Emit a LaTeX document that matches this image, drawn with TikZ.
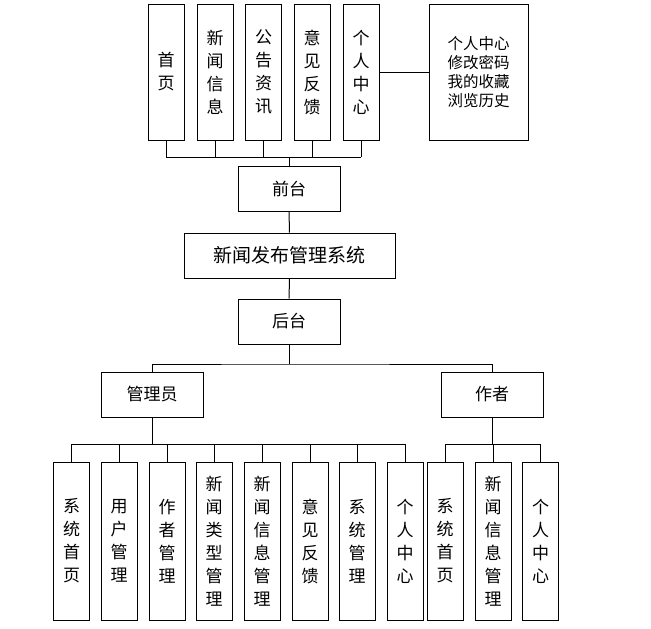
\documentclass[tikz,border=0pt]{standalone}
\usepackage{fontspec}
\newfontfamily\cjk{Noto Sans CJK SC}
\usetikzlibrary{calc}
\tikzset{box/.style={draw,line width=1pt,inner sep=0pt,align=center,font=\cjk\fontsize{17}{23}\selectfont},
  tall/.style={box,minimum width=36pt,minimum height=136pt},
  low/.style={box,minimum width=36pt,minimum height=158pt},
  wide/.style={box,minimum width=102pt,minimum height=45pt},
  link/.style={line width=1pt}}
\begin{document}
\begin{tikzpicture}[x=1pt,y=-1pt]
\useasboundingbox(0,0)rectangle(651,629);
% front end
\node[tall](home)at(166,72){首\\页};\node[tall](news)at(215,72){新\\闻\\信\\息};
\node[tall](notice)at(263.5,72){公\\告\\资\\讯};\node[tall](advice)at(312,72){意\\见\\反\\馈};
\node[tall](mine)at(361,72){个\\人\\中\\心};
\node[box,minimum width=99pt,minimum height=136pt,font=\cjk\fontsize{15.5}{19}\selectfont](minelist)at(478.5,72){个人中心\\修改密码\\我的收藏\\浏览历史};
\node[wide](front)at(289,188.5){前台};
\node[box,minimum width=211pt,minimum height=45pt,font=\cjk\fontsize{19}{23}\selectfont](sys)at(289.5,255.5){新闻发布管理系统};
\node[wide](back)at(289,321.5){后台};
\coordinate(topbus)at(289,157);
\foreach \n in {home,news,notice,advice,mine}{\draw[link](\n.south)--(\n.south|-topbus);}
\draw[link](home.south|-topbus)--(mine.south|-topbus);\draw[link](topbus)--(front);
\draw[link](mine)--(minelist);\draw[link](front)--(sys);\draw[link](sys)--(back);
% back end
\node[wide](admin)at(152,394.5){管理员};\node[wide](author)at(492,394.5){作者};
\coordinate(midbus)at(289,364);
\draw[link](back)--(midbus);\draw[link](admin.north)|-(midbus)-|(author.north);
\node[low](a1)at(71.5,541){系\\统\\首\\页};\node[low](a2)at(119,541){用\\户\\管\\理};
\node[low](a3)at(167,541){作\\者\\管\\理};\node[low](a4)at(214,541){新\\闻\\类\\型\\管\\理};
\node[low](a5)at(262,541){新\\闻\\信\\息\\管\\理};\node[low](a6)at(310,541){意\\见\\反\\馈};
\node[low](a7)at(357,541){系\\统\\管\\理};\node[low](a8)at(405,541){个\\人\\中\\心};
\node[low](w1)at(445,541){系\\统\\首\\页};\node[low](w2)at(493,541){新\\闻\\信\\息\\管\\理};
\node[low](w3)at(540.5,541){个\\人\\中\\心};
\coordinate(abus)at(152,444);\coordinate(wbus)at(492,444);
\foreach \n in {a1,a2,a3,a4,a5,a6,a7,a8}{\draw[link](\n.north)--(\n.north|-abus);}
\foreach \n in {w1,w2,w3}{\draw[link](\n.north)--(\n.north|-wbus);}
\draw[link](a1.north|-abus)--(a8.north|-abus);\draw[link](admin)--(abus);
\draw[link](w1.north|-wbus)--(w3.north|-wbus);\draw[link](author)--(wbus);
\end{tikzpicture}
\end{document}
